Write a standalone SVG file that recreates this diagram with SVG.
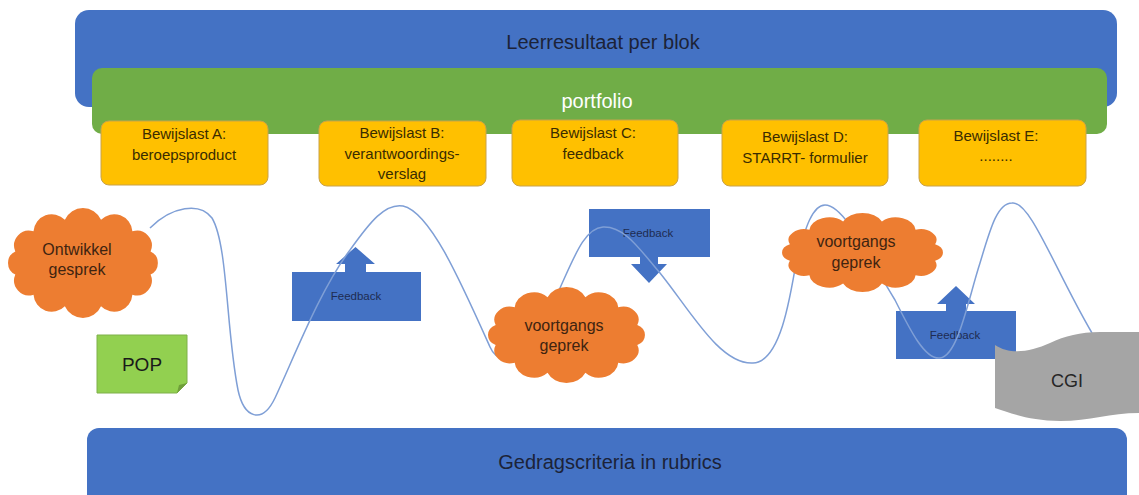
<svg xmlns="http://www.w3.org/2000/svg" width="1139" height="495" viewBox="0 0 1139 495">
<style>
  text { font-family: "Liberation Sans", Arial, sans-serif; text-anchor: middle; }
  .band { fill: #4472c4; }
  .bandtxt { font-size: 20px; fill: #1c2338; }
  .port { fill: #70ad47; }
  .porttxt { font-size: 20px; fill: #ffffff; }
  .ybox { fill: #ffc000; stroke: #c8a24a; stroke-width: 1; }
  .ytxt { font-size: 15px; fill: #3a2c00; }
  .fb { fill: #4472c4; }
  .fbtxt { font-size: 11.5px; fill: #1e2c52; }
  .cloud { fill: #ed7d31; }
  .ctxt { font-size: 16px; fill: #3f2410; }
  .wave { fill: none; stroke: #7f9fd6; stroke-width: 1.5; }
</style>
<defs>
  <path id="cloudShape" d="M133,59.8 A12.7,12.7 0 0 1 117.4,76.9 A15.7,15.7 0 0 1 90.5,86.7 A17,17 0 0 1 59.5,86.7 A15.7,15.7 0 0 1 32.6,76.9 A12.7,12.7 0 0 1 17,59.8 A10.8,10.8 0 0 1 17,40.2 A12.7,12.7 0 0 1 32.6,23.1 A15.7,15.7 0 0 1 59.5,13.3 A17,17 0 0 1 90.5,13.3 A15.7,15.7 0 0 1 117.4,23.1 A12.7,12.7 0 0 1 133,40.2 A10.8,10.8 0 0 1 133,59.8 Z"/>
</defs>

<g id="leerresultaat">
  <rect class="band" x="75" y="10" width="1042" height="97" rx="14"/>
  <text class="bandtxt" x="603" y="49">Leerresultaat per blok</text>
</g>
<g id="portfolio">
  <rect class="port" x="92" y="68" width="1015" height="66" rx="10"/>
  <text class="porttxt" x="597" y="108">portfolio</text>
</g>
<g id="gedragscriteria">
  <rect class="band" x="87" y="428" width="1040" height="80" rx="12"/>
  <text class="bandtxt" x="610" y="469">Gedragscriteria in rubrics</text>
</g>

<g id="bewijslast-a">
  <rect class="ybox" x="101" y="121" width="167" height="64" rx="8"/>
  <text class="ytxt" x="184" y="139">Bewijslast A:</text>
  <text class="ytxt" x="184" y="160">beroepsproduct</text>
</g>
<g id="bewijslast-b">
  <rect class="ybox" x="319" y="121" width="167" height="65" rx="8"/>
  <text class="ytxt" x="402" y="138">Bewijslast B:</text>
  <text class="ytxt" x="402" y="159">verantwoordings-</text>
  <text class="ytxt" x="402" y="179">verslag</text>
</g>
<g id="bewijslast-c">
  <rect class="ybox" x="512" y="120" width="166" height="66" rx="8"/>
  <text class="ytxt" x="593" y="138">Bewijslast C:</text>
  <text class="ytxt" x="593" y="159">feedback</text>
</g>
<g id="bewijslast-d">
  <rect class="ybox" x="722" y="120" width="166" height="66" rx="8"/>
  <text class="ytxt" x="805" y="142">Bewijslast D:</text>
  <text class="ytxt" x="805" y="163">STARRT- formulier</text>
</g>
<g id="bewijslast-e">
  <rect class="ybox" x="919" y="120" width="167" height="66" rx="8"/>
  <text class="ytxt" x="996" y="141">Bewijslast E:</text>
  <text class="ytxt" x="996" y="161">........</text>
</g>

<g id="feedback-1">
  <path class="fb" d="M292,272 H345 V264 H336 L355.5,247 L375,264 H366 V272 H421 V321 H292 Z"/>
  <text class="fbtxt" x="356" y="300">Feedback</text>
</g>
<g id="feedback-2">
  <path class="fb" d="M589,209 H710 V257 H658 V264 H667 L649,283 L631,264 H640 V257 H589 Z"/>
  <text class="fbtxt" x="648" y="237">Feedback</text>
</g>
<g id="feedback-3">
  <path class="fb" d="M896,311 H946 V304 H937 L956,286 L975,304 H966 V311 H1016 V359 H896 Z"/>
  <text class="fbtxt" x="955" y="339">Feedback</text>
</g>

<g id="connectors">
  <path class="wave" d="M150,228 C172,206 200,202 212,218 C228,245 226,330 238,390 C244,418 262,425 275,398 C295,355 320,290 350,250 C370,222 385,203 403,206 C430,212 460,280 490,347 C505,380 540,330 560,288 C575,255 585,228 603,227 C625,226 640,250 660,273 C690,310 720,365 753,363 C780,362 790,300 797,257 C805,230 812,205 825,205 C845,205 870,260 895,300 C910,330 925,360 940,358 C958,356 968,300 980,263 C990,230 997,203 1012,203 C1030,200 1055,270 1092,333"/>
</g>

<g id="ontwikkelgesprek">
  <use href="#cloudShape" class="cloud" transform="translate(-4.5,204.1) scale(1.166,1.178)"/>
  <text class="ctxt" x="77" y="255">Ontwikkel</text>
  <text class="ctxt" x="77" y="275">gesprek</text>
</g>
<g id="voortgangsgesprek-1">
  <use href="#cloudShape" class="cloud" transform="translate(474.9,283.6) scale(1.221,1.028)"/>
  <text class="ctxt" x="564" y="331">voortgangs</text>
  <text class="ctxt" x="564" y="351">geprek</text>
</g>
<g id="voortgangsgesprek-2">
  <use href="#cloudShape" class="cloud" transform="translate(768.6,210.2) scale(1.252,0.846)"/>
  <text class="ctxt" x="856" y="247">voortgangs</text>
  <text class="ctxt" x="856" y="268">geprek</text>
</g>

<g id="pop">
  <path d="M97,335 H187 V383 L177,393 H97 Z" fill="#92d050" stroke="#7fb04a" stroke-width="1"/>
  <path d="M177,393 L179,385 L187,383 Z" fill="#6f9e3a"/>
  <text x="142" y="371" style="font-size:19px" fill="#1a1a1a">POP</text>
</g>

<g id="cgi">
  <path d="M995,345 C1010,355 1030,352 1050,343 C1065,336 1080,332 1100,332 L1139,332 L1139,413 C1110,413 1090,421 1060,421 C1030,421 1010,413 995,408 Z" fill="#a5a5a5"/>
  <text x="1067" y="387" style="font-size:18px" fill="#262626">CGI</text>
</g>
</svg>
